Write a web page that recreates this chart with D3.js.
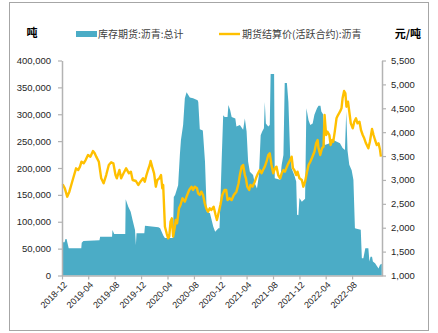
<!DOCTYPE html>
<html>
<head>
<meta charset="utf-8">
<script src="https://cdn.jsdelivr.net/npm/d3@7"></script>
<style>
  body { margin: 0; background: #fff; }
  svg { display: block; }
</style>
</head>
<body>
<svg id="chart" width="438" height="333"></svg>
<script>
// 库存期货:沥青:总计 (吨)
const invDates = [
  "2018-12-01","2018-12-13","2018-12-17","2018-12-22","2019-01-01","2019-02-28",
  "2019-03-02","2019-03-10","2019-05-23","2019-05-26","2019-07-20","2019-07-22",
  "2019-07-30","2019-09-19","2019-09-21","2019-10-03","2019-10-14","2019-10-23",
  "2019-11-03","2019-11-07","2019-11-10","2019-12-16","2019-12-19","2020-02-19",
  "2020-02-27","2020-03-12","2020-03-20","2020-04-26","2020-04-30","2020-05-06",
  "2020-05-20","2020-05-28","2020-06-02","2020-06-12","2020-06-20","2020-06-28",
  "2020-07-13","2020-07-28","2020-08-18","2020-08-21","2020-08-28","2020-09-11",
  "2020-09-21","2020-09-29","2020-10-14","2020-10-29","2020-11-07","2020-11-22",
  "2020-11-27","2020-12-02","2020-12-07","2020-12-14","2020-12-21","2021-01-03",
  "2021-01-07","2021-01-15","2021-01-22","2021-02-08","2021-02-13","2021-03-01",
  "2021-03-16","2021-03-24","2021-04-01","2021-04-08","2021-04-16","2021-05-01",
  "2021-05-09","2021-05-19","2021-05-28","2021-06-05","2021-06-12","2021-06-20",
  "2021-06-24","2021-06-29","2021-07-10","2021-07-17","2021-07-21","2021-08-06",
  "2021-08-09","2021-09-03","2021-09-10","2021-09-18","2021-09-24","2021-10-04",
  "2021-10-11","2021-10-19","2021-10-26","2021-11-07","2021-11-16","2021-11-20",
  "2021-11-26","2021-12-01","2021-12-12","2021-12-27","2022-01-02","2022-01-12",
  "2022-01-20","2022-01-31","2022-02-08","2022-02-20","2022-02-27","2022-03-08",
  "2022-03-12","2022-03-20","2022-03-23","2022-03-28","2022-04-13","2022-04-28",
  "2022-05-06","2022-06-06","2022-06-18","2022-06-29","2022-07-05","2022-07-11",
  "2022-07-19","2022-07-30","2022-08-07","2022-08-14","2022-08-22","2022-09-10",
  "2022-09-15","2022-09-22","2022-10-01","2022-10-15","2022-10-20","2022-10-25",
  "2022-11-01","2022-11-05","2022-11-15","2022-12-01","2022-12-08","2022-12-16"
];
const invValues = [
  62000, 62000, 68000, 68000, 50600, 50600,
  61000, 64000, 65500, 72000, 72000, 84700,
  77000, 77000, 142000, 128000, 118700, 103000,
  84700, 56700, 78500, 78500, 92600, 90000,
  87800, 75000, 70000, 70000, 146000, 150000,
  168000, 224000, 252000, 280000, 329600, 341000,
  331000, 330000, 326000, 323000, 272000, 270000,
  212000, 119000, 116000, 91000, 81600, 88000,
  88000, 150000, 215000, 298000, 295000, 295000,
  317000, 308000, 295000, 292000, 277000, 280000,
  271000, 292000, 268000, 212000, 193000, 187000,
  171500, 162000, 187000, 261000, 268000, 274000,
  323000, 283000, 277000, 280000, 375000, 375000,
  181000, 178000, 206000, 224000, 358000, 358000,
  323000, 224000, 199000, 187000, 175000, 113000,
  112000, 144000, 137000, 143000, 311000, 289000,
  280000, 283000, 299000, 311000, 316000, 316000,
  305000, 300000, 258000, 243000, 245000, 248000,
  252000, 246000, 237000, 233500, 305000, 232000,
  206000, 196000, 178000, 88000, 87000, 85000,
  32000, 32000, 50600, 50600, 26000, 35000,
  35000, 26000, 22600, 13000, 20000, 22000
];

// 期货结算价(活跃合约):沥青 (元/吨)
const priceDates = [
  "2018-12-04","2018-12-14","2018-12-25","2019-01-04","2019-01-15","2019-01-26",
  "2019-02-04","2019-02-14","2019-02-22","2019-03-01","2019-03-11","2019-03-20",
  "2019-03-31","2019-04-11","2019-04-23","2019-05-01","2019-05-08","2019-05-20",
  "2019-05-31","2019-06-11","2019-06-23","2019-07-05","2019-07-16","2019-07-26",
  "2019-08-05","2019-08-11","2019-08-23","2019-08-31","2019-09-11","2019-09-23",
  "2019-10-06","2019-10-15","2019-10-23","2019-11-07","2019-11-18","2019-11-28",
  "2019-12-10","2019-12-18","2019-12-26","2020-01-02","2020-01-10","2020-01-14",
  "2020-01-21","2020-01-30","2020-02-07","2020-02-14","2020-02-23","2020-03-02",
  "2020-03-08","2020-03-12","2020-03-20","2020-03-28","2020-04-04","2020-04-09",
  "2020-04-15","2020-04-21","2020-04-27","2020-05-05","2020-05-09","2020-05-15",
  "2020-05-24","2020-05-31","2020-06-09","2020-06-20","2020-06-28","2020-07-10",
  "2020-07-21","2020-07-28","2020-08-05","2020-08-15","2020-08-20","2020-08-28",
  "2020-09-04","2020-09-12","2020-09-20","2020-09-27","2020-10-05","2020-10-13",
  "2020-10-20","2020-10-31","2020-11-09","2020-11-15","2020-11-24","2020-12-01",
  "2020-12-10","2020-12-20","2020-12-28","2021-01-03","2021-01-12","2021-01-22",
  "2021-02-01","2021-02-13","2021-02-23","2021-03-01","2021-03-09","2021-03-16",
  "2021-03-24","2021-03-29","2021-04-04","2021-04-13","2021-04-19","2021-04-28",
  "2021-05-09","2021-05-17","2021-05-24","2021-06-01","2021-06-09","2021-06-16",
  "2021-06-24","2021-07-02","2021-07-10","2021-07-17","2021-07-25","2021-08-02",
  "2021-08-10","2021-08-17","2021-08-25","2021-09-03","2021-09-10","2021-09-18",
  "2021-09-25","2021-10-04","2021-10-11","2021-10-19","2021-10-26","2021-11-01",
  "2021-11-07","2021-11-16","2021-11-22","2021-12-01","2021-12-12","2021-12-19",
  "2021-12-27","2022-01-05","2022-01-12","2022-01-20","2022-01-27","2022-02-08",
  "2022-02-16","2022-02-23","2022-02-27","2022-03-07","2022-03-15","2022-03-22",
  "2022-03-27","2022-04-03","2022-04-09","2022-04-18","2022-04-24","2022-05-01",
  "2022-05-06","2022-05-13","2022-05-21","2022-05-28","2022-06-06","2022-06-13",
  "2022-06-18","2022-06-25","2022-07-01","2022-07-06","2022-07-13","2022-07-21",
  "2022-07-26","2022-08-04","2022-08-11","2022-08-19","2022-08-26","2022-09-04",
  "2022-09-11","2022-09-19","2022-09-26","2022-10-04","2022-10-15","2022-10-22",
  "2022-11-01","2022-11-08","2022-11-15","2022-11-23","2022-12-01","2022-12-08",
  "2022-12-12"
];
const priceValues = [
  2909, 2825, 2650, 2754, 2930, 3103,
  3243, 3208, 3278, 3382, 3348, 3417,
  3522, 3487, 3606, 3557, 3487, 3382,
  3034, 2930, 3103, 3313, 3369, 3348,
  3103, 3034, 3208, 3034, 3139, 3243,
  3139, 3173, 2999, 2978, 2894, 2964,
  3034, 2964, 3103, 3208, 3313, 3396,
  3278, 3139, 2859, 2999, 3034, 3103,
  2825, 2894, 2021, 1883, 1778, 1813,
  2126, 2197, 1813, 2021, 2162, 2092,
  2406, 2476, 2616, 2546, 2651, 2790,
  2859, 2790, 2859, 2825, 2720, 2685,
  2755, 2685, 2511, 2406, 2336, 2406,
  2371, 2440, 2266, 2162, 2336, 2476,
  2685, 2790, 2790, 2580, 2616, 2580,
  2685, 2755, 2930, 3103, 3278, 3313,
  3103, 3034, 2859, 2790, 2894, 2859,
  2964, 3069, 3139, 3208, 3139, 3208,
  3278, 3382, 3522, 3557, 3313, 3139,
  3243, 3278, 3103, 3034, 3139, 3208,
  3173, 3278, 3348, 3417, 3487, 3243,
  3208, 3103, 3173, 3034, 2999, 2859,
  2964, 3173, 3313, 3382, 3453, 3591,
  3767, 3836, 3662, 3522, 3662, 3697,
  4359, 3941, 4010, 3941, 3731, 3836,
  3801, 4010, 4290, 4359, 4428, 4499,
  4709, 4862, 4812, 4533, 4638, 4359,
  4185, 4080, 4219, 4290, 4185, 4219,
  4045, 3941, 3871, 3767, 3662, 3801,
  4066, 3941, 3836, 3731, 3767, 3627,
  3487
];

const xTickLabels = ["2018-12","2019-04","2019-08","2019-12","2020-04","2020-08",
                     "2020-12","2021-04","2021-08","2021-12","2022-04","2022-08"];
const leftTicks = [0, 50000, 100000, 150000, 200000, 250000, 300000, 350000, 400000];
const rightTicks = [1000, 1500, 2000, 2500, 3000, 3500, 4000, 4500, 5000, 5500];
const seriesNames = ["库存期货:沥青:总计", "期货结算价(活跃合约):沥青"];
const leftUnit = "吨";
const rightUnit = "元/吨";

const BLUE = "#4bacc6";
const GOLD = "#ffc000";
const AXIS = "#b3b3b3";
const TEXT = "#262626";
const LATIN = "'Liberation Sans', Arial, sans-serif";
const CJK = "'Noto Sans CJK SC', 'Noto Sans', sans-serif";

const svg = d3.select("#chart");
const parseDay = d3.timeParse("%Y-%m-%d");
const parseMonth = d3.timeParse("%Y-%m");

const plot = { left: 62, right: 382, top: 60.5, bottom: 275.5 };

const x = d3.scaleTime()
  .domain([parseDay("2018-12-01"), parseDay("2022-12-17")])
  .range([plot.left, plot.right]);
const yL = d3.scaleLinear().domain([0, 400000]).range([plot.bottom, plot.top]);
const yR = d3.scaleLinear().domain([1000, 5500]).range([plot.bottom, plot.top]);

// outer frame
svg.append("rect")
  .attr("x", 9.5).attr("y", 2.5).attr("width", 419).attr("height", 328)
  .attr("fill", "#fff").attr("stroke", "#a6a6a6").attr("stroke-width", 1);

const inv = invDates.map((d, i) => ({ date: parseDay(d), value: invValues[i] }));
const price = priceDates.map((d, i) => ({ date: parseDay(d), value: priceValues[i] }));

// inventory area
svg.append("path")
  .datum(inv)
  .attr("fill", BLUE)
  .attr("d", d3.area()
    .x(d => x(d.date))
    .y0(yL(0))
    .y1(d => yL(d.value)));

// price line
svg.append("path")
  .datum(price)
  .attr("fill", "none")
  .attr("stroke", GOLD)
  .attr("stroke-width", 2.4)
  .attr("stroke-linejoin", "round")
  .attr("d", d3.line()
    .x(d => x(d.date))
    .y(d => yR(d.value)));

function styleAxis(g) {
  g.select(".domain").attr("stroke", AXIS).attr("stroke-width", 1.5);
  g.selectAll(".tick line").attr("stroke", AXIS).attr("stroke-width", 1.2);
  g.selectAll(".tick text").attr("fill", TEXT).style("font-family", LATIN).style("font-size", "9.5px");
}

// left axis
svg.append("g")
  .attr("transform", `translate(${plot.left},0)`)
  .call(d3.axisLeft(yL).tickValues(leftTicks).tickFormat(d3.format(","))
    .tickSizeInner(4).tickSizeOuter(0).tickPadding(7))
  .call(styleAxis);

// right axis
svg.append("g")
  .attr("transform", `translate(${plot.right},0)`)
  .call(d3.axisRight(yR).tickValues(rightTicks).tickFormat(d3.format(","))
    .tickSizeInner(4).tickSizeOuter(0).tickPadding(5))
  .call(styleAxis);

// bottom axis with slanted month labels
const xAxis = svg.append("g")
  .attr("transform", `translate(0,${plot.bottom})`)
  .call(d3.axisBottom(x).tickValues(xTickLabels.map(parseMonth))
    .tickFormat(d3.timeFormat("%Y-%m")).tickSizeInner(4).tickSizeOuter(0))
  .call(styleAxis);
xAxis.selectAll(".tick text")
  .style("font-size", "9px")
  .attr("x", 0).attr("y", 0).attr("dy", 0)
  .attr("text-anchor", "end")
  .attr("transform", "translate(5,10) rotate(-45)");

// unit labels
svg.append("text")
  .attr("x", 32).attr("y", 32).attr("text-anchor", "middle")
  .attr("dominant-baseline", "central")
  .style("font-family", CJK).style("font-size", "11px").style("font-weight", "bold")
  .attr("fill", "#000").text(leftUnit);
svg.append("text")
  .attr("x", 408).attr("y", 33).attr("text-anchor", "middle")
  .attr("dominant-baseline", "central")
  .style("font-family", CJK).style("font-size", "11px").style("font-weight", "bold")
  .attr("fill", "#000").text(rightUnit);

// legend
const legend = svg.append("g");
legend.append("rect")
  .attr("x", 76).attr("y", 31).attr("width", 21).attr("height", 6).attr("fill", BLUE);
legend.append("text")
  .attr("x", 98).attr("y", 33.5).attr("dominant-baseline", "central")
  .style("font-family", CJK).style("font-size", "10px").attr("fill", "#404040")
  .text(seriesNames[0]);
legend.append("line")
  .attr("x1", 219).attr("x2", 240).attr("y1", 34).attr("y2", 34)
  .attr("stroke", GOLD).attr("stroke-width", 2.4);
legend.append("text")
  .attr("x", 242).attr("y", 33.5).attr("dominant-baseline", "central")
  .style("font-family", CJK).style("font-size", "10px").attr("fill", "#404040")
  .text(seriesNames[1]);
</script>
</body>
</html>
